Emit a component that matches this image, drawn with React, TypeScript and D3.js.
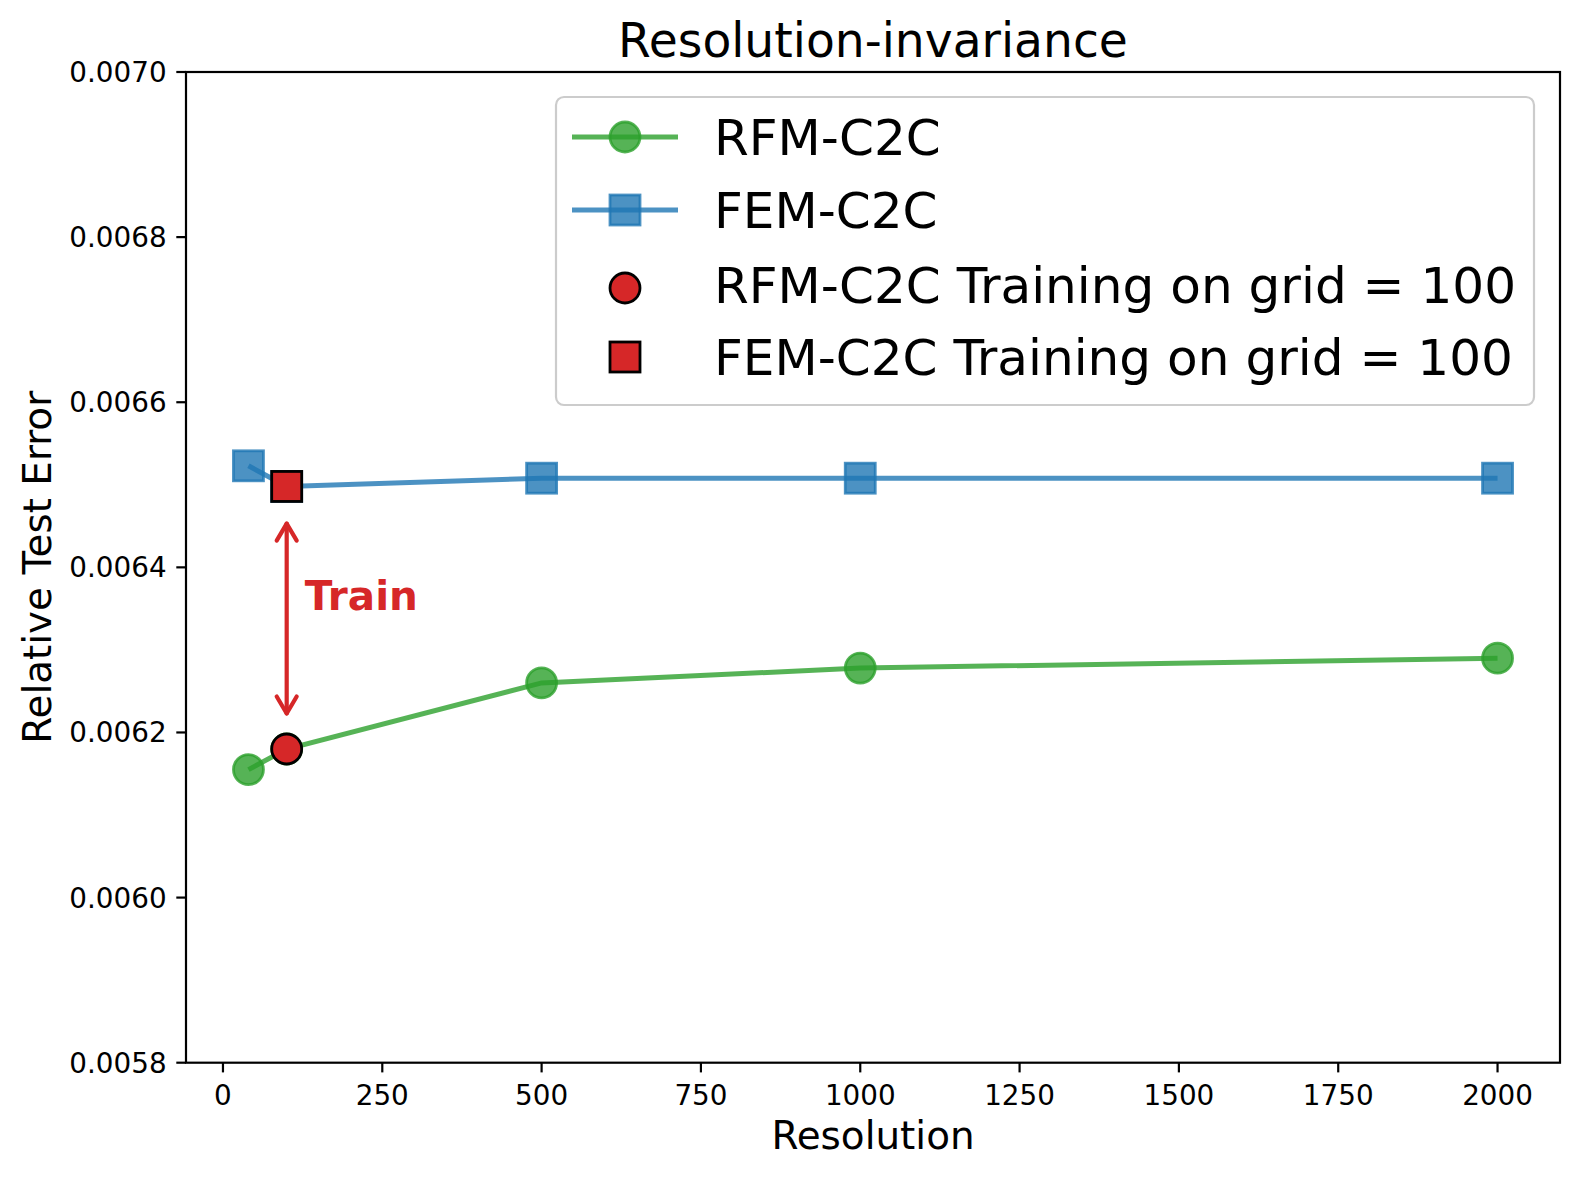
import React from "react";
import * as d3 from "d3";

const resolutions = [40, 100, 500, 1000, 2000];
const rfmValues = [0.006155, 0.00618, 0.00626, 0.006278, 0.00629];
const femValues = [0.006523, 0.006498, 0.006508, 0.006508, 0.006508];
const trainGrid = 100;
const trainRfm = 0.00618;
const trainFem = 0.006498;
const arrowFrom = 0.006453;
const arrowTo = 0.006223;
const xTicks = [0, 250, 500, 750, 1000, 1250, 1500, 1750, 2000];
const yTicks = [0.0058, 0.006, 0.0062, 0.0064, 0.0066, 0.0068, 0.007];
const legendLabels = ["RFM-C2C", "FEM-C2C", "RFM-C2C Training on grid = 100", "FEM-C2C Training on grid = 100"];

const W = 1580, H = 1180;
const L = 186, R = 1560, T = 72, B = 1062.7;
const GREEN = "#2ca02c", BLUE = "#1f77b4", RED = "#d62728";
const FONT = "DejaVu Sans";

export default function App() {
  const x = d3.scaleLinear().domain([-58, 2098]).range([L, R]);
  const y = d3.scaleLinear().domain([0.0058, 0.007]).range([B, T]);
  const mk = d3.line<number>().x((_, i) => x(resolutions[i])).y((d) => y(d));
  const rfmPath = mk(rfmValues) || "";
  const femPath = mk(femValues) || "";
  const ms = 30;
  const ax = x(trainGrid);
  const a1 = y(arrowFrom), a2 = y(arrowTo);
  const hw = 10, hl = 17;

  const legX = 556, legY = 97, legW = 978, legH = 308;
  const rowY = [137, 210, 285, 357];

  return (
    <svg width={W} height={H} style={{ position: "absolute", left: 0, top: 0, background: "#fff" }} fontFamily={FONT}>
      <rect x={0} y={0} width={W} height={H} fill="#fff" />
      <path d={rfmPath} fill="none" stroke={GREEN} strokeOpacity={0.8} strokeWidth={5} />
      {rfmValues.map((v, i) => (
        <circle key={"g" + i} cx={x(resolutions[i])} cy={y(v)} r={ms / 2} fill={GREEN} fillOpacity={0.8} stroke={GREEN} strokeOpacity={0.8} strokeWidth={2.8} />
      ))}
      <path d={femPath} fill="none" stroke={BLUE} strokeOpacity={0.8} strokeWidth={5} />
      {femValues.map((v, i) => (
        <rect key={"b" + i} x={x(resolutions[i]) - ms / 2} y={y(v) - ms / 2} width={ms} height={ms} fill={BLUE} fillOpacity={0.8} stroke={BLUE} strokeOpacity={0.8} strokeWidth={2.8} />
      ))}
      <circle cx={x(trainGrid)} cy={y(trainRfm)} r={ms / 2} fill={RED} stroke="#000" strokeWidth={2.8} />
      <rect x={x(trainGrid) - ms / 2} y={y(trainFem) - ms / 2} width={ms} height={ms} fill={RED} stroke="#000" strokeWidth={2.8} />
      <g stroke={RED} strokeWidth={4.2} fill="none" strokeLinecap="round" strokeLinejoin="round">
        <line x1={ax} y1={a1} x2={ax} y2={a2} />
        <polyline points={`${ax - hw},${a1 + hl} ${ax},${a1} ${ax + hw},${a1 + hl}`} />
        <polyline points={`${ax - hw},${a2 - hl} ${ax},${a2} ${ax + hw},${a2 - hl}`} />
      </g>
      <text x={x(trainGrid) + 18} y={610} fill={RED} fontSize={40.5} fontWeight="bold">Train</text>

      <rect x={L} y={T} width={R - L} height={B - T} fill="none" stroke="#000" strokeWidth={2.2} />
      {xTicks.map((t) => (
        <g key={"xt" + t}>
          <line x1={x(t)} x2={x(t)} y1={B} y2={B + 9.7} stroke="#000" strokeWidth={2.2} />
          <text x={x(t)} y={1105} textAnchor="middle" fontSize={27.8}>{t}</text>
        </g>
      ))}
      {yTicks.map((t) => (
        <g key={"yt" + t}>
          <line x1={L - 9.7} x2={L} y1={y(t)} y2={y(t)} stroke="#000" strokeWidth={2.2} />
          <text x={L - 19.4} y={y(t) + 10} textAnchor="end" fontSize={27.8}>{t.toFixed(4)}</text>
        </g>
      ))}
      <text x={(L + R) / 2} y={1149} textAnchor="middle" fontSize={38.9}>Resolution</text>
      <text transform={`translate(51,${(T + B) / 2}) rotate(-90)`} textAnchor="middle" fontSize={38.9}>Relative Test Error</text>
      <text x={(L + R) / 2} y={57} textAnchor="middle" fontSize={47.2}>Resolution-invariance</text>

      <rect x={legX} y={legY} width={legW} height={legH} rx={8} ry={8} fill="#fff" fillOpacity={0.8} stroke="#cccccc" strokeWidth={2.2} />
      <line x1={572} x2={678} y1={rowY[0]} y2={rowY[0]} stroke={GREEN} strokeOpacity={0.8} strokeWidth={5} />
      <circle cx={625} cy={rowY[0]} r={ms / 2} fill={GREEN} fillOpacity={0.8} stroke={GREEN} strokeOpacity={0.8} strokeWidth={2.8} />
      <line x1={572} x2={678} y1={rowY[1]} y2={rowY[1]} stroke={BLUE} strokeOpacity={0.8} strokeWidth={5} />
      <rect x={625 - ms / 2} y={rowY[1] - ms / 2} width={ms} height={ms} fill={BLUE} fillOpacity={0.8} stroke={BLUE} strokeOpacity={0.8} strokeWidth={2.8} />
      <circle cx={625} cy={rowY[2] + 3} r={ms / 2} fill={RED} stroke="#000" strokeWidth={2.8} />
      <rect x={625 - ms / 2} y={rowY[3] - ms / 2} width={ms} height={ms} fill={RED} stroke="#000" strokeWidth={2.8} />
      {legendLabels.map((lab, i) => (
        <text key={lab} x={714} y={rowY[i] + 18} fontSize={50.1}>{lab}</text>
      ))}
    </svg>
  );
}
